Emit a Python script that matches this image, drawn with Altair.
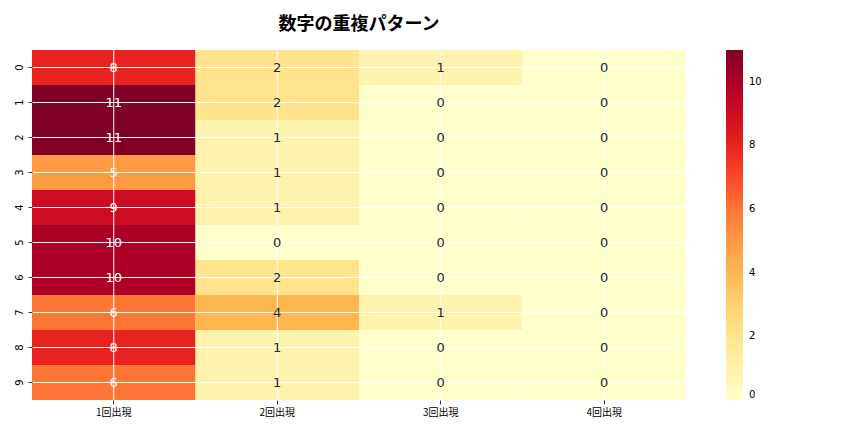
import altair as alt
import pandas as pd

rows = ["0", "1", "2", "3", "4", "5", "6", "7", "8", "9"]
cols = ["1回出現", "2回出現", "3回出現", "4回出現"]
col1 = [8, 11, 11, 5, 9, 10, 10, 6, 8, 6]
col2 = [2, 2, 1, 1, 1, 0, 2, 4, 1, 1]
col3 = [1, 0, 0, 0, 0, 0, 0, 1, 0, 0]
col4 = [0, 0, 0, 0, 0, 0, 0, 0, 0, 0]

ylorrd = ["#ffffcc", "#ffeda0", "#fed976", "#feb24c", "#fd8d3c",
          "#fc4e2a", "#e31a1c", "#bd0026", "#800026"]

series = [col1, col2, col3, col4]
records = []
for ci, c in enumerate(cols):
    for ri, r in enumerate(rows):
        records.append({"row": r, "col": c, "value": series[ci][ri]})
df = pd.DataFrame(records)
df_cols = pd.DataFrame({"col": cols})
df_rows = pd.DataFrame({"row": rows})

FONT = "Noto Sans CJK JP"

xenc = alt.X("col:N", sort=cols, title=None,
             axis=alt.Axis(labelAngle=0, labelFontSize=10, labelFont=FONT, labelColor="#000",
                           domain=False, ticks=True, tickColor="#333", tickSize=4,
                           grid=False, labelPadding=3))
yenc = alt.Y("row:N", sort=rows, title=None,
             axis=alt.Axis(labelAngle=270, labelAlign="center", labelBaseline="bottom",
                           labelFontSize=10, labelFont="DejaVu Sans", labelColor="#000",
                           domain=False, ticks=True, tickColor="#333", tickSize=4,
                           grid=False, labelPadding=4))

rect = alt.Chart(df).mark_rect().encode(
    x=xenc, y=yenc,
    color=alt.Color("value:Q",
                    scale=alt.Scale(range=ylorrd, domain=[0, 11], interpolate="rgb"),
                    legend=alt.Legend(title=None, gradientLength=350, gradientThickness=17,
                                      values=[0, 2, 4, 6, 8, 10], labelFontSize=10,
                                      labelFont="DejaVu Sans", offset=40, labelOffset=6,
                                      gradientStrokeWidth=0, direction="vertical"))
)

vgrid = alt.Chart(df_cols).mark_rule(color="white", strokeWidth=1).encode(
    x=alt.X("col:N", sort=cols, bandPosition=0.5)
)
hgrid = alt.Chart(df_rows).mark_rule(color="white", strokeWidth=1).encode(
    y=alt.Y("row:N", sort=rows, bandPosition=0.5)
)

text = alt.Chart(df).mark_text(fontSize=13, font="DejaVu Sans").encode(
    x=alt.X("col:N", sort=cols),
    y=alt.Y("row:N", sort=rows),
    text="value:Q",
    color=alt.condition("datum.value >= 5", alt.value("white"), alt.value("#262626")),
)

chart = (rect + vgrid + hgrid + text).properties(
    width=654, height=350,
    title=alt.TitleParams("数字の重複パターン", font=FONT, fontSize=18, fontWeight="bold",
                          anchor="middle", offset=16, color="#000"),
    autosize=alt.AutoSizeParams(type="none"),
    padding={"left": 24, "top": 42, "right": 120, "bottom": 30},
).configure_view(stroke=None)

chart.save("out.html", embed_options={"renderer": "svg", "actions": False})
